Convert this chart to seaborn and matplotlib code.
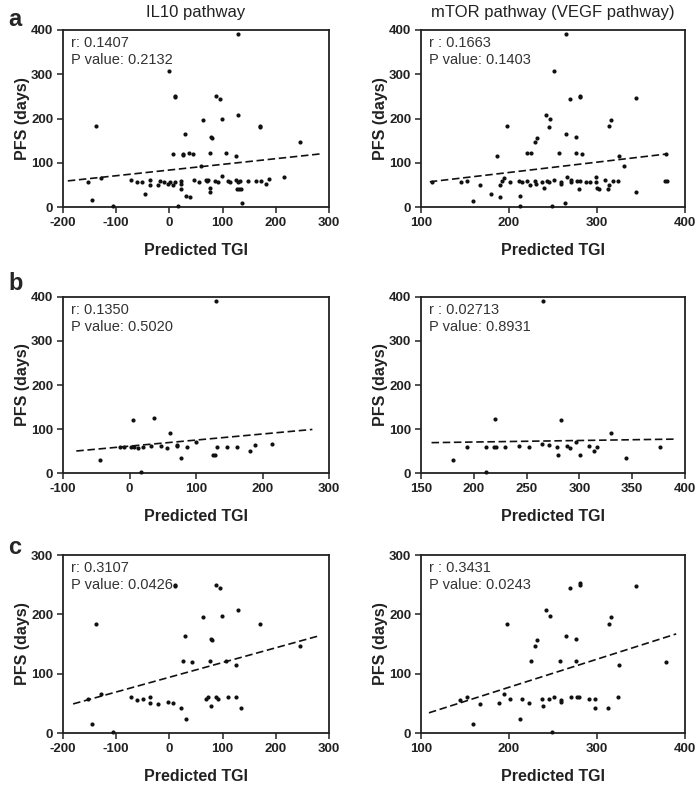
import matplotlib
matplotlib.use("Agg")
import matplotlib.pyplot as plt
import seaborn as sns

sns.set_style("ticks")
narrow = ['Liberation Sans Narrow', 'Liberation Sans', 'DejaVu Sans']
plt.rcParams['font.family'] = narrow
plt.rcParams['axes.unicode_minus'] = False

# ---------------- data ----------------
# row a, IL10 pathway
a_il10_tgi = [129, 0, 11, 11, 87, 96, 99, 129, 64, -138, 171, 171, 29, 79, 81, 245,
              6, 25, 26, 36, 44, 77, 107, 126, 59, -153, -128, -145, -106, -72, -61,
              -52, -36, -36, -46, -21, -17, -11, -3, 6, 2, 11, 21, 21, 21, 17, 31, 38,
              47, 55, 68, 70, 72, 77, 77, 86, 91, 99, 111, 114, 125, 129, 133, 127,
              131, 135, 136, 147, 162, 172, 182, 188, 215]
a_il10_pfs = [390, 307, 251, 248, 250, 244, 198, 207, 197, 182, 183, 180, 165, 159, 156, 147,
              120, 117, 120, 123, 120, 122, 123, 115, 92, 56, 65, 15, 2, 61, 56,
              56, 60, 50, 29, 50, 58, 57, 53, 50, 57, 56, 58, 51, 41, 2, 24, 23,
              61, 56, 62, 58, 61, 44, 34, 59, 56, 69, 59, 56, 60, 56, 59, 41,
              41, 41, 8, 59, 59, 58, 51, 63, 68]
a_il10_fit_x = [-191, 284]
a_il10_fit_y = [59, 120]

# row a, mTOR pathway
a_mtor_tgi = [265, 251, 269, 281, 281, 344, 242, 247, 198, 245, 314, 316, 265, 276, 232, 230,
              186, 220, 225, 257, 276, 283, 325, 331, 378, 112, 145, 152, 159, 167, 180,
              190, 190, 194, 192, 201, 211, 215, 220, 213, 212, 224, 229, 231, 237, 240,
              243, 246, 251, 249, 259, 259, 264, 266, 270, 271, 277, 280, 281, 288, 292,
              299, 299, 300, 302, 309, 312, 314, 318, 324, 344, 377, 380]
a_mtor_pfs = [390, 307, 244, 251, 248, 247, 207, 198, 182, 180, 184, 197, 165, 159, 156, 147,
              116, 123, 121, 121, 123, 120, 115, 92, 120, 57, 56, 59, 14, 49, 29,
              22, 50, 65, 58, 56, 58, 56, 59, 24, 2, 50, 58, 53, 56, 44,
              59, 56, 60, 2, 56, 52, 8, 67, 56, 62, 59, 41, 59, 57, 56,
              68, 57, 42, 41, 62, 41, 50, 59, 59, 34, 59, 59]
a_mtor_fit_x = [110, 380]
a_mtor_fit_y = [57, 120]

# row b, IL10 pathway
b_il10_tgi = [-45, -15, -9, 3, 7, 13, 21, 33, 47, 57, 71, 71, 78, 86, 100, 126, 129, 131,
              147, 162, 181, 189, 215, 6, 37, 61, 17, 130]
b_il10_pfs = [29, 60, 60, 60, 60, 57, 60, 61, 62, 56, 61, 63, 34, 60, 71, 42, 40, 58,
              60, 60, 51, 63, 67, 121, 124, 92, 2, 390]
b_il10_fit_x = [-80, 275]
b_il10_fit_y = [50, 99]

# row b, mTOR pathway
b_mtor_tgi = [180, 194, 212, 212, 219, 221, 220, 230, 243, 252, 265, 271, 279, 280, 283, 288,
              291, 297, 301, 309, 314, 317, 330, 344, 376, 266]
b_mtor_pfs = [29, 59, 58, 2, 59, 60, 123, 58, 62, 58, 67, 64, 59, 41, 120, 62,
              56, 71, 40, 62, 51, 59, 92, 35, 59, 390]
b_mtor_fit_x = [160, 390]
b_mtor_fit_y = [69, 77]

# row c, IL10 pathway
c_il10_tgi = [11, 11, 87, 96, 129, 64, 99, -138, 171, 29, 79, 81, 245, 26, 43, 77, 107, 126,
              -153, -128, -145, -106, -72, -60, -50, -36, -36, -21, -3, 6, 21, 31, 69, 72,
              78, 87, 91, 111, 126, 135]
c_il10_pfs = [250, 247, 249, 244, 207, 196, 198, 183, 184, 164, 159, 156, 147, 121, 120, 122, 122, 115,
              57, 65, 16, 1, 61, 56, 57, 60, 50, 49, 52, 50, 42, 24, 57, 61,
              45, 61, 57, 60, 60, 42]
c_il10_fit_x = [-181, 278]
c_il10_fit_y = [49, 163]

# row c, mTOR pathway
c_mtor_tgi = [269, 281, 281, 344, 242, 247, 198, 314, 316, 265, 276, 232, 230, 225, 258, 276,
              325, 378, 144, 152, 159, 167, 189, 194, 201, 213, 215, 223, 237, 239, 246, 249,
              251, 259, 259, 270, 277, 280, 291, 298, 298, 312, 324]
c_mtor_pfs = [244, 250, 252, 247, 207, 198, 183, 184, 196, 164, 158, 156, 146, 122, 121, 122,
              115, 120, 56, 60, 16, 49, 50, 66, 57, 24, 57, 50, 58, 45, 57, 1,
              61, 56, 52, 60, 61, 61, 57, 57, 42, 42, 60]
c_mtor_fit_x = [109, 390]
c_mtor_fit_y = [34, 167]

panels = [
    (a_il10_tgi, a_il10_pfs, a_il10_fit_x, a_il10_fit_y, "r: 0.1407\nP value: 0.2132"),
    (a_mtor_tgi, a_mtor_pfs, a_mtor_fit_x, a_mtor_fit_y, "r : 0.1663\nP value: 0.1403"),
    (b_il10_tgi, b_il10_pfs, b_il10_fit_x, b_il10_fit_y, "r: 0.1350\nP value: 0.5020"),
    (b_mtor_tgi, b_mtor_pfs, b_mtor_fit_x, b_mtor_fit_y, "r : 0.02713\nP value: 0.8931"),
    (c_il10_tgi, c_il10_pfs, c_il10_fit_x, c_il10_fit_y, "r: 0.3107\nP value: 0.0426"),
    (c_mtor_tgi, c_mtor_pfs, c_mtor_fit_x, c_mtor_fit_y, "r : 0.3431\nP value: 0.0243"),
]
x_ranges = [(-200, 300, 100), (100, 400, 100), (-100, 300, 100), (150, 400, 50),
            (-200, 300, 100), (100, 400, 100)]
y_tops = [400, 400, 400, 400, 300, 300]
col_titles = ["IL10 pathway", "mTOR pathway (VEGF pathway)"]
row_letters = ["a", "b", "c"]

# ---------------- layout ----------------
W, H = 697, 787
fig = plt.figure(figsize=(W / 100, H / 100), dpi=100)
col_px = [(63, 329), (421, 685)]
row_px = [(30, 207), (297, 473), (555, 733)]
letter_y = [19, 284, 548]

for i, (xs, ys, fx, fy, stat) in enumerate(panels):
    r, c = divmod(i, 2)
    l, rr = col_px[c]
    t, b = row_px[r]
    ax = fig.add_axes([l / W, 1 - b / H, (rr - l) / W, (b - t) / H])

    sns.scatterplot(x=xs, y=ys, ax=ax, color="#111111", s=9, linewidth=0,
                    clip_on=False, zorder=3)
    sns.lineplot(x=fx, y=fy, ax=ax, color="#111111", lw=1.2,
                 linestyle=(0, (4.5, 2.2)), zorder=2)

    x0, x1, step = x_ranges[i]
    ax.set_xlim(x0, x1)
    ax.set_xticks(range(x0, x1 + 1, step))
    ax.set_ylim(0, y_tops[i])
    ax.set_yticks(range(0, y_tops[i] + 1, 100))

    for sp in ax.spines.values():
        sp.set_linewidth(1.3)
        sp.set_color("#222222")
    ax.tick_params(direction="out", length=4, width=1.1, color="#222222",
                   labelsize=9.5, pad=3)
    for lab in ax.get_xticklabels() + ax.get_yticklabels():
        lab.set_fontweight("bold")
        lab.set_color("#222222")

    ax.set_xlabel("Predicted TGI", fontsize=11.5, fontweight="bold",
                  color="#222222", labelpad=10)
    ax.set_ylabel("PFS (days)", fontsize=11.5, fontweight="bold",
                  color="#222222", labelpad=1)

    ax.text(0.03, 0.965, stat, transform=ax.transAxes, ha="left", va="top",
            fontsize=10.5, color="#333333", linespacing=1.25,
            family=['Liberation Sans', 'DejaVu Sans'])

    if r == 0:
        ax.set_title(col_titles[c], fontsize=12, color="#222222", pad=9)

for k, letter in enumerate(row_letters):
    fig.text(8 / W, 1 - letter_y[k] / H, letter, fontsize=17, fontweight="bold",
             va="center", ha="left", family=['Liberation Sans', 'DejaVu Sans'])

fig.savefig("out.png", dpi=100)
